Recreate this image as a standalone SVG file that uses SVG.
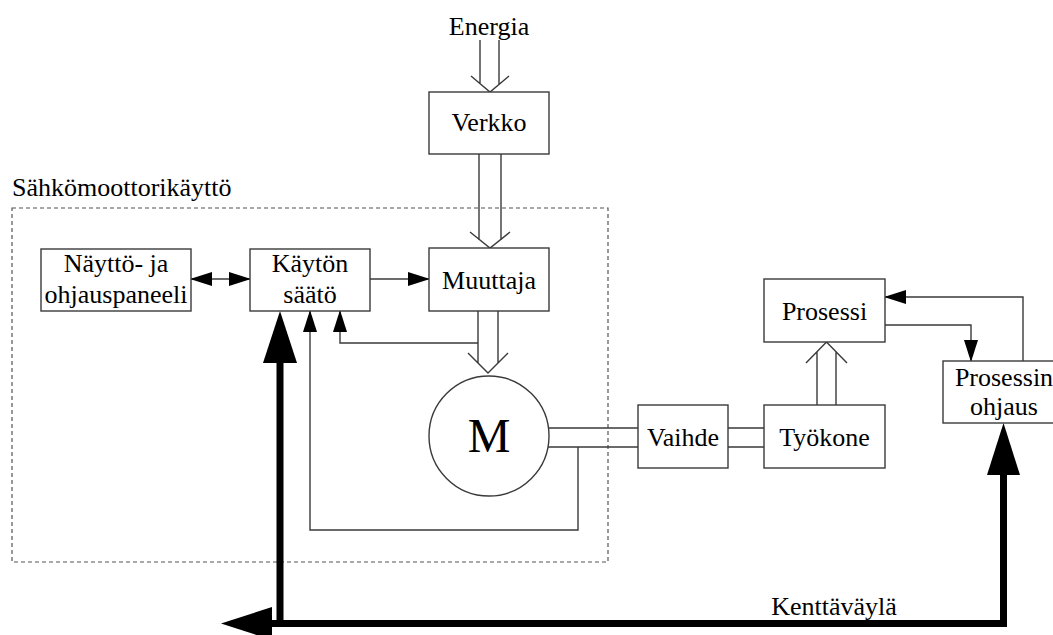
<svg xmlns="http://www.w3.org/2000/svg" width="1053" height="635" viewBox="0 0 1053 635">
  <style>
    .box { fill: #ffffff; stroke: #3a3a3a; stroke-width: 1.4; }
    .lbl { font-family: "Liberation Serif", "Times New Roman", serif; font-size: 26px; fill: #000; text-anchor: middle; }
    .big { font-size: 48px; }
    .wire { fill: none; stroke: #3a3a3a; stroke-width: 1.4; }
    .sig { fill: none; stroke: #3a3a3a; stroke-width: 1.4; marker-end: url(#tri); }
    .bus { fill: none; stroke: #000; stroke-width: 7; stroke-linejoin: miter; }
    .bighead { fill: #000; }
    .frame { fill: none; stroke: #555; stroke-width: 1.2; stroke-dasharray: 4 3; }
  </style>
  <defs>
    <marker id="tri" markerUnits="userSpaceOnUse" markerWidth="22" markerHeight="14" viewBox="0 0 22 14" refX="21" refY="7" orient="auto-start-reverse">
      <path d="M0,0 L22,7 L0,14 z" fill="#000"/>
    </marker>
  </defs>

  <!-- drive boundary -->
  <g id="drive-frame">
    <rect class="frame" x="12" y="208" width="596" height="354"/>
    <text class="lbl" x="12" y="196" style="text-anchor:start">Sähkömoottorikäyttö</text>
  </g>

  <!-- connectors -->
  <g id="connectors">
    <!-- energy feed into grid -->
    <text class="lbl" x="489" y="35">Energia</text>
    <path class="wire" d="M480,40 V84 M499,40 V84 M471,76 L490,92 L509,76"/>
    <!-- grid to converter -->
    <path class="wire" d="M479,154 V240 M501,154 V240 M470,232 L490,248 L510,232"/>
    <!-- converter to motor -->
    <path class="wire" d="M478,311 V363 M498,311 V363 M468,353 L488,373 L508,353"/>
    <!-- motor shaft to gear and machine -->
    <path class="wire" d="M548,428 H638 M548,447 H638 M728,428 H764 M728,447 H764"/>
    <!-- machine to process -->
    <path class="wire" d="M817,405 V352 M836,405 V352 M806,363 L826.5,342 L847,363"/>

    <!-- panel <-> control -->
    <path class="sig" style="marker-start:url(#tri)" d="M191,279 H250"/>
    <!-- control -> converter -->
    <path class="sig" d="M370,279 H429"/>
    <!-- current feedback -->
    <path class="sig" d="M478,343 H340 V311"/>
    <!-- speed feedback -->
    <path class="sig" d="M578,447 V530 H310 V311"/>
    <!-- process <-> process control -->
    <path class="sig" d="M885,325 H971 V361"/>
    <path class="sig" d="M1023,361 V297 H885"/>

    <!-- fieldbus -->
    <path class="bus" d="M280,362 V627"/>
    <path class="bus" d="M271,623.5 H1003.5 V474"/>
    <polygon class="bighead" points="280,311 297,363 263,363"/>
    <polygon class="bighead" points="221,623.5 272,607 272,640"/>
    <polygon class="bighead" points="1003.5,423 1020,475 987,475"/>
    <text class="lbl" x="834" y="615">Kenttäväylä</text>
  </g>

  <g id="verkko">
    <rect class="box" x="429" y="92" width="120" height="62"/>
    <text class="lbl" x="489" y="131">Verkko</text>
  </g>

  <g id="naytto">
    <rect class="box" x="41" y="249" width="150" height="62"/>
    <text class="lbl" x="116" y="272">Näyttö- ja</text>
    <text class="lbl" x="116" y="303">ohjauspaneeli</text>
  </g>

  <g id="kayton-saato">
    <rect class="box" x="250" y="249" width="120" height="62"/>
    <text class="lbl" x="310" y="272">Käytön</text>
    <text class="lbl" x="310" y="303">säätö</text>
  </g>

  <g id="muuttaja">
    <rect class="box" x="429" y="248" width="120" height="63"/>
    <text class="lbl" x="489" y="289">Muuttaja</text>
  </g>

  <g id="moottori">
    <circle class="box" cx="489" cy="436" r="60"/>
    <text class="lbl big" x="489" y="452">M</text>
  </g>

  <g id="vaihde">
    <rect class="box" x="638" y="405" width="90" height="63"/>
    <text class="lbl" x="683" y="446">Vaihde</text>
  </g>

  <g id="tyokone">
    <rect class="box" x="764" y="405" width="121" height="63"/>
    <text class="lbl" x="824.5" y="446">Työkone</text>
  </g>

  <g id="prosessi">
    <rect class="box" x="764" y="279" width="121" height="63"/>
    <text class="lbl" x="824.5" y="320">Prosessi</text>
  </g>

  <g id="prosessin-ohjaus">
    <rect class="box" x="943" y="361" width="122" height="62"/>
    <text class="lbl" x="1004" y="386">Prosessin</text>
    <text class="lbl" x="1004" y="415">ohjaus</text>
  </g>
</svg>
